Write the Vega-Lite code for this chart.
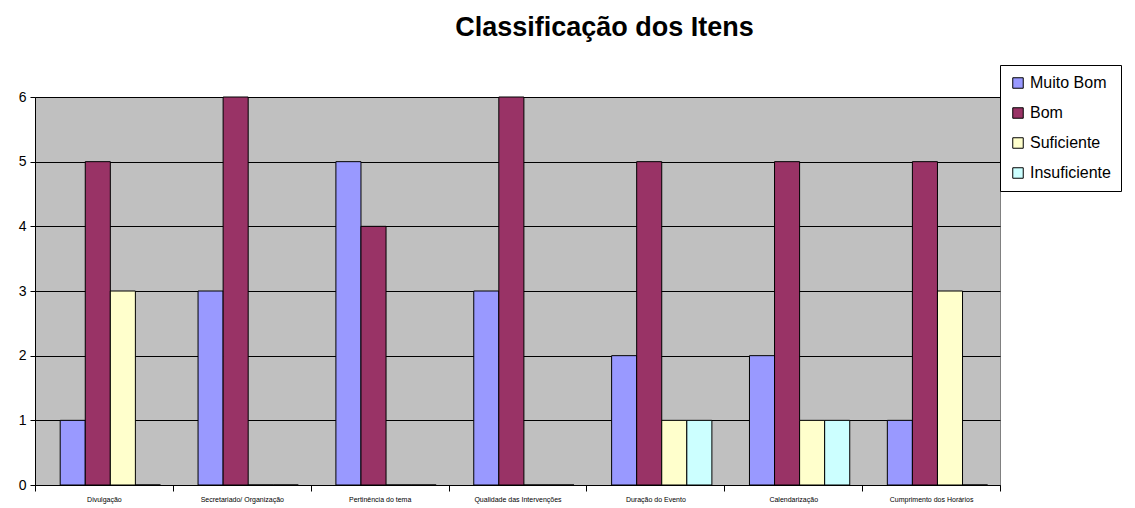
{
  "$schema": "https://vega.github.io/schema/vega-lite/v6.json",
  "width": 965,
  "height": 388,
  "autosize": "none",
  "padding": {"left": 35, "top": 97, "right": 135, "bottom": 23},
  "background": "white",
  "config": {
    "font": "Liberation Sans",
    "view": {"fill": "#C0C0C0", "stroke": "#808080"}
  },
  "title": {
    "text": "Classificação dos Itens",
    "fontSize": 27,
    "fontWeight": "bold",
    "font": "Liberation Sans",
    "color": "black",
    "offset": 23,
    "dx": 87
  },
  "data": {
    "values": [
      {"item": "Divulgação", "classe": "Muito Bom", "n": 1},
      {"item": "Divulgação", "classe": "Bom", "n": 5},
      {"item": "Divulgação", "classe": "Suficiente", "n": 3},
      {"item": "Divulgação", "classe": "Insuficiente", "n": 0},
      {"item": "Secretariado/ Organização", "classe": "Muito Bom", "n": 3},
      {"item": "Secretariado/ Organização", "classe": "Bom", "n": 6},
      {"item": "Secretariado/ Organização", "classe": "Suficiente", "n": 0},
      {"item": "Secretariado/ Organização", "classe": "Insuficiente", "n": 0},
      {"item": "Pertinência do tema", "classe": "Muito Bom", "n": 5},
      {"item": "Pertinência do tema", "classe": "Bom", "n": 4},
      {"item": "Pertinência do tema", "classe": "Suficiente", "n": 0},
      {"item": "Pertinência do tema", "classe": "Insuficiente", "n": 0},
      {"item": "Qualidade das Intervenções", "classe": "Muito Bom", "n": 3},
      {"item": "Qualidade das Intervenções", "classe": "Bom", "n": 6},
      {"item": "Qualidade das Intervenções", "classe": "Suficiente", "n": 0},
      {"item": "Qualidade das Intervenções", "classe": "Insuficiente", "n": 0},
      {"item": "Duração do Evento", "classe": "Muito Bom", "n": 2},
      {"item": "Duração do Evento", "classe": "Bom", "n": 5},
      {"item": "Duração do Evento", "classe": "Suficiente", "n": 1},
      {"item": "Duração do Evento", "classe": "Insuficiente", "n": 1},
      {"item": "Calendarização", "classe": "Muito Bom", "n": 2},
      {"item": "Calendarização", "classe": "Bom", "n": 5},
      {"item": "Calendarização", "classe": "Suficiente", "n": 1},
      {"item": "Calendarização", "classe": "Insuficiente", "n": 1},
      {"item": "Cumprimento dos Horários", "classe": "Muito Bom", "n": 1},
      {"item": "Cumprimento dos Horários", "classe": "Bom", "n": 5},
      {"item": "Cumprimento dos Horários", "classe": "Suficiente", "n": 3},
      {"item": "Cumprimento dos Horários", "classe": "Insuficiente", "n": 0}
    ]
  },
  "mark": {"type": "bar", "stroke": "black", "strokeWidth": 1},
  "encoding": {
    "x": {
      "field": "item",
      "type": "nominal",
      "sort": null,
      "scale": {"paddingInner": 0, "paddingOuter": 0},
      "axis": {
        "title": null,
        "labelAngle": 0,
        "labelFontSize": 7,
        "labelColor": "black",
        "tickBand": "extent",
        "tickColor": "black",
        "tickSize": 6,
        "domainColor": "black",
        "labelPadding": 4,
        "grid": false
      }
    },
    "xOffset": {
      "field": "classe",
      "type": "nominal",
      "sort": ["Muito Bom", "Bom", "Suficiente", "Insuficiente"],
      "scale": {"paddingInner": 0, "paddingOuter": 0.75, "align": 0.67}
    },
    "y": {
      "field": "n",
      "type": "quantitative",
      "scale": {"domain": [0, 6], "nice": false},
      "axis": {
        "title": null,
        "tickCount": 6,
        "labelFontSize": 14,
        "labelColor": "black",
        "grid": true,
        "gridColor": "black",
        "gridWidth": 1,
        "domainColor": "black",
        "tickColor": "black",
        "tickSize": 5,
        "labelPadding": 4
      }
    },
    "color": {
      "field": "classe",
      "type": "nominal",
      "sort": ["Muito Bom", "Bom", "Suficiente", "Insuficiente"],
      "scale": {
        "domain": ["Muito Bom", "Bom", "Suficiente", "Insuficiente"],
        "range": ["#9999FF", "#993366", "#FFFFCC", "#CCFFFF"]
      },
      "legend": {
        "title": null,
        "orient": "none",
        "legendX": 965,
        "legendY": -32,
        "symbolType": "square",
        "symbolSize": 110,
        "symbolStrokeColor": "black",
        "symbolStrokeWidth": 1,
        "labelFontSize": 16,
        "labelColor": "black",
        "rowPadding": 14,
        "padding": 10,
        "strokeColor": "black",
        "fillColor": "white",
        "labelLimit": 200
      }
    }
  }
}
